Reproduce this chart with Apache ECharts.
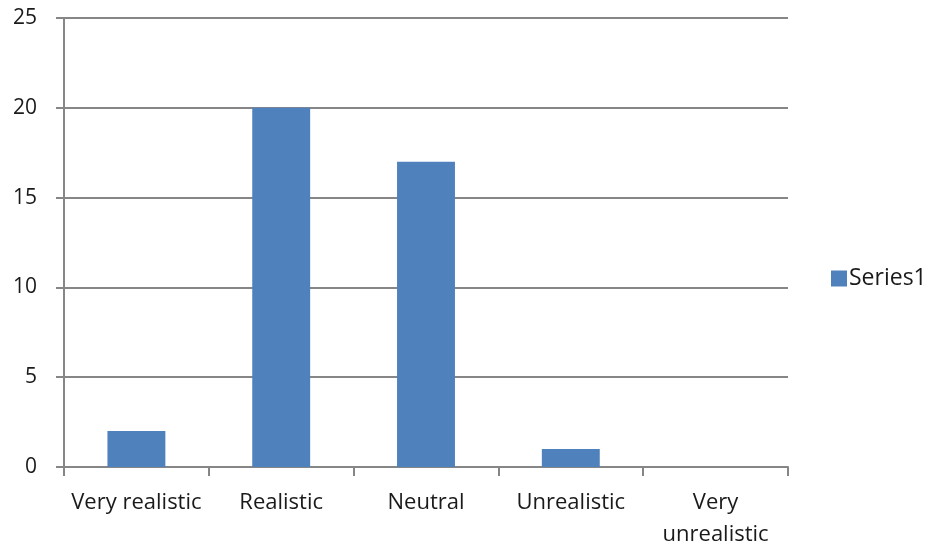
<!DOCTYPE html>
<html>
<head>
<meta charset="utf-8">
<script src="https://cdn.jsdelivr.net/npm/echarts@6/dist/echarts.min.js"></script>
<style>
  html, body { margin: 0; padding: 0; background: #fff; }
  #chart { width: 931px; height: 547px; }
</style>
</head>
<body>
<div id="chart"></div>
<script>
// Survey responses by realism rating
const categories = ['Very realistic', 'Realistic', 'Neutral', 'Unrealistic', 'Very\nunrealistic'];
const series1 = [2, 20, 17, 1, 0];
const yTicks = [0, 5, 10, 15, 20, 25];

const axisGray = '#868686';
const textColor = '#1a1a1a';
const fontFamily = '"Open Sans", "Noto Sans", sans-serif';

const chart = echarts.init(document.getElementById('chart'));
chart.setOption({
  animation: false,
  grid: { left: 64, right: 143, top: 18, bottom: 80, containLabel: false, outerBoundsMode: 'none' },
  legend: {
    data: ['Series1'],
    orient: 'vertical',
    left: 826,
    top: 262,
    itemWidth: 16,
    itemHeight: 16,
    itemGap: 4,
    icon: 'rect',
    textStyle: { color: textColor, fontSize: 23, fontFamily: fontFamily, padding: [0, 0, 0, -3] }
  },
  xAxis: {
    type: 'category',
    data: categories,
    axisLine: { lineStyle: { color: axisGray, width: 2 } },
    axisTick: { show: true, length: 9, inside: false, lineStyle: { color: axisGray, width: 2 } },
    axisLabel: {
      color: textColor, fontSize: 22, fontFamily: fontFamily,
      margin: 20, lineHeight: 32, interval: 0
    }
  },
  yAxis: {
    type: 'value',
    min: yTicks[0],
    max: yTicks[yTicks.length - 1],
    interval: yTicks[1] - yTicks[0],
    axisLine: { show: true, lineStyle: { color: axisGray, width: 2 } },
    axisTick: { show: true, length: 8, lineStyle: { color: axisGray, width: 2 } },
    axisLabel: { color: textColor, fontSize: 21, fontFamily: fontFamily, margin: 27 },
    splitLine: { show: true, lineStyle: { color: axisGray, width: 2 } }
  },
  series: [{
    name: 'Series1',
    type: 'bar',
    data: series1,
    barWidth: '40%',
    itemStyle: { color: '#4F81BD' }
  }]
});
</script>
</body>
</html>
